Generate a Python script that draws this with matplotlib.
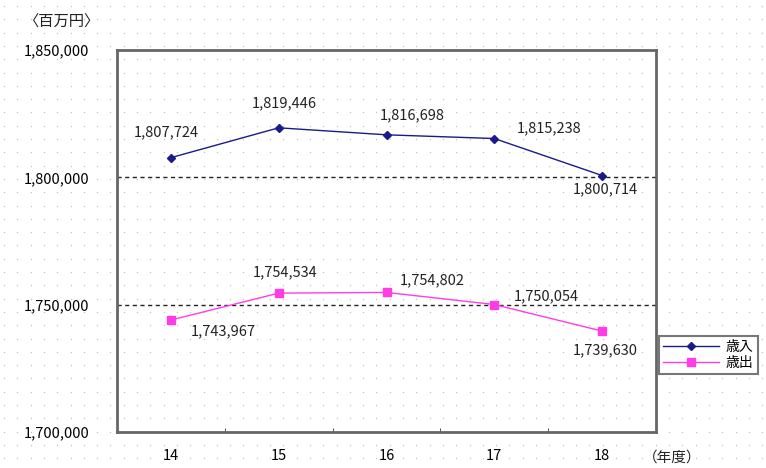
import numpy as np
import matplotlib
matplotlib.use("Agg")
import matplotlib.pyplot as plt

plt.rcParams['font.family'] = ['Noto Sans CJK JP', 'DejaVu Sans']

years = ["14", "15", "16", "17", "18"]
revenue = [1807724, 1819446, 1816698, 1815238, 1800714]
expenditure = [1743967, 1754534, 1754802, 1750054, 1739630]
series_names = ["歳入", "歳出"]
y_ticks = [1700000, 1750000, 1800000, 1850000]

# label offsets in points for each value label (dx, dy)
rev_offsets = [(-3.6, 18), (4.3, 17.3), (18.7, 14.4), (39.6, 7.2), (2.2, -10)]
exp_offsets = [(37.4, -7.9), (4.3, 15.1), (33, 8.6), (37.4, 5.8), (2.2, -13.7)]

W, H = 766, 468
fig = plt.figure(figsize=(W / 100, H / 100), dpi=100)

# faint dotted paper texture behind everything
bg = fig.add_axes([0, 0, 1, 1], zorder=-10)
bg.set_xlim(0, W)
bg.set_ylim(H, 0)
bg.axis("off")
gx, gy = np.meshgrid(np.arange(4, W, 13.3), np.arange(6, H, 13.3))
bg.scatter(gx.ravel(), gy.ravel(), s=1.0, color="#c4c4c4", lw=0)

left, right, top, bottom = 117, 656, 50, 432
ax = fig.add_axes([left / W, 1 - bottom / H, (right - left) / W, (bottom - top) / H])
ax.patch.set_alpha(0)

x = np.arange(len(years))
ax.plot(x, revenue, color="#1a1a8c", lw=1.0, marker="D", ms=4.5,
        label=series_names[0], zorder=3)
ax.plot(x, expenditure, color="#ff3ce6", lw=1.0, marker="s", ms=5.5,
        label=series_names[1], zorder=3)

for xi, v, (dx, dy) in zip(x, revenue, rev_offsets):
    ax.annotate(f"{v:,}", (xi, v), xytext=(dx, dy), textcoords="offset points",
                ha="center", va="center", fontsize=10.5, color="#222222")
for xi, v, (dx, dy) in zip(x, expenditure, exp_offsets):
    ax.annotate(f"{v:,}", (xi, v), xytext=(dx, dy), textcoords="offset points",
                ha="center", va="center", fontsize=10.5, color="#222222")

ax.set_xlim(-0.5, len(years) - 0.5)
ax.set_ylim(y_ticks[0], y_ticks[-1])
ax.set_xticks(x)
ax.set_xticklabels(years, fontsize=10.5)
ax.set_xticks(np.arange(0.5, len(years) - 1, 1), minor=True)
ax.tick_params(axis="x", which="major", length=0, pad=12)
ax.tick_params(axis="x", which="minor", length=3, direction="in", color="#333333")
ax.set_yticks(y_ticks)
ax.set_yticklabels([f"{t:,}" for t in y_ticks], fontsize=10.5)
ax.tick_params(axis="y", length=0, pad=20)

for yv in y_ticks[1:-1]:
    ax.axhline(yv, color="#222222", lw=1.0, ls=(0, (3, 2.5)), zorder=1)

for s in ax.spines.values():
    s.set_color("#666666")
    s.set_linewidth(2.0)

fig.text(61 / W, 1 - 22 / H, "〈百万円〉", fontsize=11, ha="center", va="center",
         color="#222222")
fig.text(672 / W, 1 - 458 / H, "（年度）", fontsize=10.5, ha="center", va="center",
         color="#222222")

leg = ax.legend(loc="center left", bbox_to_anchor=(659 / W, 1 - 355 / H),
                bbox_transform=fig.transFigure, fontsize=10, frameon=True,
                fancybox=False, handlelength=4.0, borderpad=0.3,
                labelspacing=0.15, handletextpad=0.5, borderaxespad=0)
leg.get_frame().set_edgecolor("#555555")
leg.get_frame().set_linewidth(1.5)

fig.savefig("out.png", dpi=100)
